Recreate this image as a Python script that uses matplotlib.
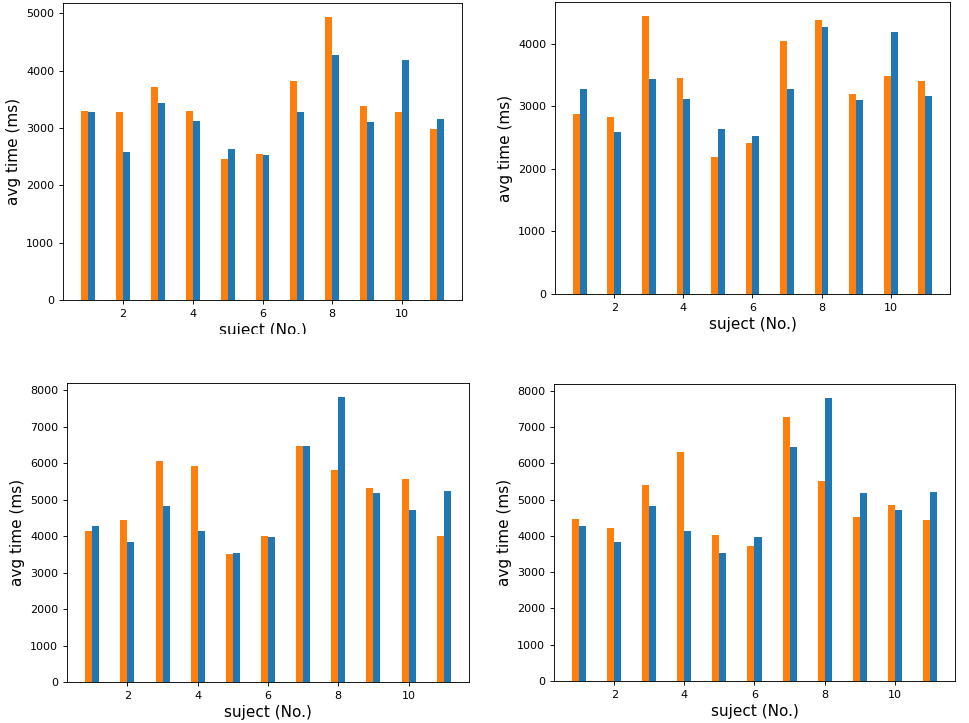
import numpy as np
import matplotlib
matplotlib.use('Agg')
import matplotlib.pyplot as plt
from matplotlib.transforms import Bbox

# Data
subjects = np.arange(1, 12)

orange_tl = [3291, 3279, 3714, 3291, 2468, 2549, 3824, 4936, 3378, 3279, 2990]
orange_tr = [2884, 2831, 4446, 3458, 2189, 2422, 4042, 4382, 3193, 3485, 3400]
blue_top = [3278, 2591, 3442, 3124, 2630, 2522, 3276, 4274, 3104, 4185, 3167]

orange_bl = [4132, 4450, 6049, 5931, 3506, 4005, 6458, 5804, 5313, 5559, 4005]
orange_br = [4475, 4228, 5416, 6329, 4027, 3717, 7269, 5516, 4521, 4849, 4447]
blue_bottom = [4276, 3833, 4814, 4142, 3524, 3969, 6467, 7802, 5177, 4723, 5223]

W, H = 970, 723
fig = plt.figure(figsize=(W / 100, H / 100), dpi=100)


def px_axes(left, top, right, bottom):
    return fig.add_axes([left / W, 1 - bottom / H, (right - left) / W, (bottom - top) / H])


panels = [
    ((63, 3, 462, 300), orange_tl, blue_top),
    ((555, 2, 950, 294), orange_tr, blue_top),
    ((67, 383, 469, 682), orange_bl, blue_bottom),
    ((554, 384, 955, 681), orange_br, blue_bottom),
]

axes = []
for box, orange, blue in panels:
    ax = px_axes(*box)
    ax.bar(subjects - 0.1, orange, width=0.2, color='#ff7f0e')
    ax.bar(subjects + 0.1, blue, width=0.2, color='#1f77b4')
    ax.set_xticks([2, 4, 6, 8, 10])
    ax.tick_params(labelsize=8, length=2.8, width=0.64)
    for s in ax.spines.values():
        s.set_linewidth(0.64)
    ax.set_xlabel('suject (No.)', fontsize=11, labelpad=3)
    ax.set_ylabel('avg time (ms)', fontsize=11, labelpad=4)
    axes.append(ax)

# the top-left panel's x label is cut off in the original image
lab = axes[0].xaxis.label
lab.set_clip_box(Bbox([[0, H - 334], [W / 2, H]]))
lab.set_clip_on(True)

fig.savefig('out.png', dpi=100)
